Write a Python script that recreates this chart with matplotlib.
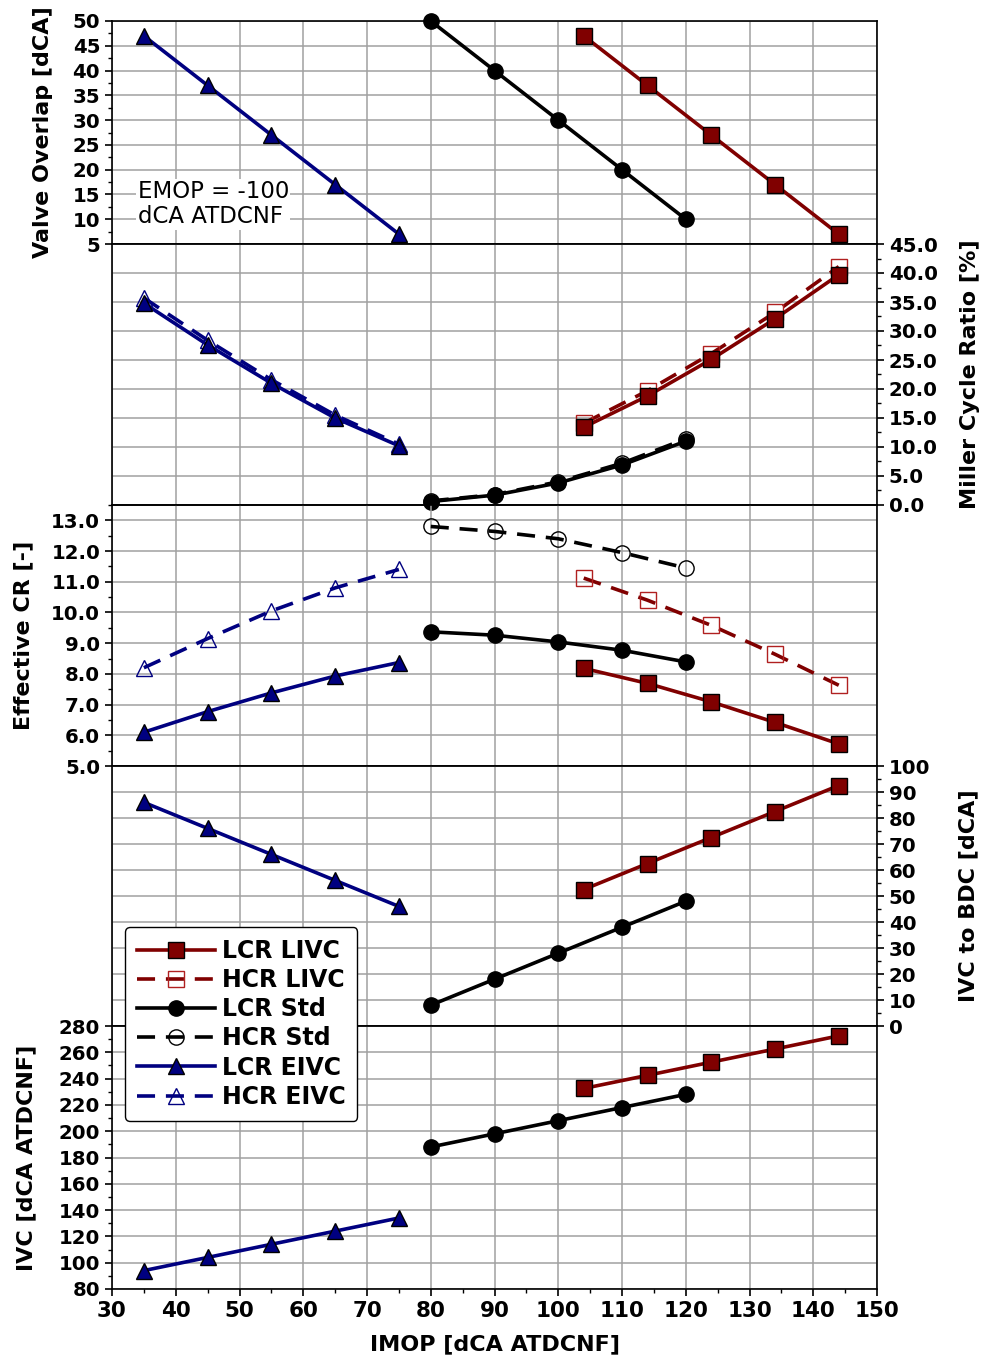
import matplotlib.pyplot as plt
from matplotlib.ticker import MultipleLocator, FormatStrFormatter
from matplotlib.lines import Line2D

# IMOP positions [dCA ATDCNF]
imop_livc = [104, 114, 124, 134, 144]
imop_std = [80, 90, 100, 110, 120]
imop_eivc = [35, 45, 55, 65, 75]

# valve overlap [dCA]
overlap_livc = [47, 37, 27, 17, 7]
overlap_std = [50, 40, 30, 20, 10]
overlap_eivc = [47, 37, 27, 17, 7]

# miller cycle ratio [%]
miller_lcr_livc = [13.4, 18.8, 25.1, 32.1, 39.7]
miller_hcr_livc = [14.1, 19.7, 26.1, 33.2, 41.1]
miller_lcr_std = [0.6, 1.7, 3.8, 6.9, 11.0]
miller_hcr_std = [0.7, 1.8, 4.0, 7.2, 11.4]
miller_lcr_eivc = [34.8, 27.6, 21.0, 15.0, 10.2]
miller_hcr_eivc = [35.7, 28.4, 21.6, 15.5, 10.5]

# effective compression ratio [-]
ecr_lcr_livc = [8.18, 7.69, 7.09, 6.42, 5.72]
ecr_hcr_livc = [11.12, 10.4, 9.58, 8.64, 7.63]
ecr_lcr_std = [9.37, 9.26, 9.04, 8.77, 8.39]
ecr_hcr_std = [12.8, 12.64, 12.4, 11.95, 11.45]
ecr_lcr_eivc = [6.1, 6.77, 7.38, 7.93, 8.37]
ecr_hcr_eivc = [8.2, 9.15, 10.05, 10.8, 11.4]

# IVC to BDC [dCA]
bdc_livc = [52.5, 62.5, 72.5, 82.5, 92.5]
bdc_std = [8, 18, 28, 38, 48]
bdc_eivc = [86, 76, 66, 56, 46]

# IVC [dCA ATDCNF]
ivc_livc = [232.5, 242.5, 252.5, 262.5, 272.5]
ivc_std = [188, 198, 208, 218, 228]
ivc_eivc = [94, 104, 114, 124, 134]

red = "#800000"
navy = "#000080"

plt.rcParams["font.family"] = "DejaVu Sans"
plt.rcParams["font.weight"] = "bold"
plt.rcParams["axes.labelweight"] = "bold"

fig = plt.figure(figsize=(9.84, 13.63), dpi=100)
fig.patch.set_facecolor("white")

L, R = 112 / 984, 877 / 984
H = 1363
edges = [21, 244, 505, 766, 1026, 1289]

axes = []
for i in range(5):
    top, bot = edges[i], edges[i + 1]
    ax = fig.add_axes([L, 1 - bot / H, R - L, (bot - top) / H])
    ax.patch.set_visible(False)
    ax.set_xlim(30, 150)
    ax.xaxis.set_major_locator(MultipleLocator(10))
    ax.xaxis.set_minor_locator(MultipleLocator(5))
    ax.grid(True, which="major", color="#a0a0a0", lw=1.1)
    ax.set_axisbelow(True)
    ax.tick_params(labelsize=14.2, width=1.2, length=5, direction="out")
    ax.tick_params(which="minor", length=3, width=1)
    for s in ax.spines.values():
        s.set_linewidth(1.2)
    if i < 4:
        ax.tick_params(axis="x", which="both", bottom=False, labelbottom=False)
    axes.append(ax)

lcr = dict(lw=2.6, ms=11, mec="black", mew=1, clip_on=False, zorder=4)
hcr = dict(lw=2.6, ms=11, mfc="none", mew=1, dashes=(5, 3), clip_on=False, zorder=3)

# panel 1: valve overlap
ax = axes[0]
ax.plot(imop_livc, overlap_livc, color=red, marker="s", **lcr)
ax.plot(imop_std, overlap_std, color="black", marker="o", **lcr)
ax.plot(imop_eivc, overlap_eivc, color=navy, marker="^", **lcr)
ax.set_ylim(5, 50)
ax.yaxis.set_major_locator(MultipleLocator(5))
ax.yaxis.set_minor_locator(MultipleLocator(2.5))
ax.set_ylabel("Valve Overlap [dCA]", fontsize=16, labelpad=14)
ax.text(34, 13, "EMOP = -100\ndCA ATDCNF", fontsize=16.5, fontweight="normal",
        va="center", ha="left", linespacing=1.1,
        bbox=dict(facecolor="white", edgecolor="none", pad=1))

# panel 2: miller cycle ratio
ax = axes[1]
ax.plot(imop_livc, miller_hcr_livc, color=red, marker="s", mec="#b02020", **hcr)
ax.plot(imop_std, miller_hcr_std, color="black", marker="o", mec="black", **hcr)
ax.plot(imop_eivc, miller_hcr_eivc, color=navy, marker="^", mec=navy, **hcr)
ax.plot(imop_livc, miller_lcr_livc, color=red, marker="s", **lcr)
ax.plot(imop_std, miller_lcr_std, color="black", marker="o", **lcr)
ax.plot(imop_eivc, miller_lcr_eivc, color=navy, marker="^", **lcr)
ax.set_ylim(0, 45)
ax.yaxis.tick_right()
ax.yaxis.set_label_position("right")
ax.yaxis.set_major_locator(MultipleLocator(5))
ax.yaxis.set_minor_locator(MultipleLocator(2.5))
ax.yaxis.set_major_formatter(FormatStrFormatter("%.1f"))
ax.set_ylabel("Miller Cycle Ratio [%]", fontsize=16, labelpad=16)

# panel 3: effective CR
ax = axes[2]
ax.plot(imop_livc, ecr_lcr_livc, color=red, marker="s", **lcr)
ax.plot(imop_livc, ecr_hcr_livc, color=red, marker="s", mec="#b02020", **hcr)
ax.plot(imop_std, ecr_lcr_std, color="black", marker="o", **lcr)
ax.plot(imop_std, ecr_hcr_std, color="black", marker="o", mec="black", **hcr)
ax.plot(imop_eivc, ecr_lcr_eivc, color=navy, marker="^", **lcr)
ax.plot(imop_eivc, ecr_hcr_eivc, color=navy, marker="^", mec=navy, **hcr)
ax.set_ylim(5, 13.5)
ax.yaxis.set_major_locator(MultipleLocator(1))
ax.yaxis.set_minor_locator(MultipleLocator(0.5))
ax.yaxis.set_major_formatter(FormatStrFormatter("%.1f"))
ax.set_ylabel("Effective CR [-]", fontsize=16, labelpad=13)

# panel 4: IVC to BDC
ax = axes[3]
ax.plot(imop_livc, bdc_livc, color=red, marker="s", **lcr)
ax.plot(imop_std, bdc_std, color="black", marker="o", **lcr)
ax.plot(imop_eivc, bdc_eivc, color=navy, marker="^", **lcr)
ax.set_ylim(0, 100)
ax.yaxis.tick_right()
ax.yaxis.set_label_position("right")
ax.yaxis.set_major_locator(MultipleLocator(10))
ax.yaxis.set_minor_locator(MultipleLocator(5))
ax.set_ylabel("IVC to BDC [dCA]", fontsize=16, labelpad=20)

# panel 5: IVC
ax = axes[4]
ax.plot(imop_livc, ivc_livc, color=red, marker="s", **lcr)
ax.plot(imop_std, ivc_std, color="black", marker="o", **lcr)
ax.plot(imop_eivc, ivc_eivc, color=navy, marker="^", **lcr)
ax.set_ylim(80, 280)
ax.yaxis.set_major_locator(MultipleLocator(20))
ax.yaxis.set_minor_locator(MultipleLocator(10))
ax.set_ylabel("IVC [dCA ATDCNF]", fontsize=16, labelpad=16)
ax.set_xlabel("IMOP [dCA ATDCNF]", fontsize=16, labelpad=10)
ax.tick_params(axis="x", labelsize=15.5)

handles = [
    Line2D([], [], color=red, lw=2.6, marker="s", ms=11, mec="black", mew=1),
    Line2D([], [], color=red, lw=2.6, marker="s", ms=11, mfc="none", mec="#b02020", mew=1, dashes=(5, 3)),
    Line2D([], [], color="black", lw=2.6, marker="o", ms=11, mec="black", mew=1),
    Line2D([], [], color="black", lw=2.6, marker="o", ms=11, mfc="none", mec="black", mew=1, dashes=(5, 3)),
    Line2D([], [], color=navy, lw=2.6, marker="^", ms=11, mec="black", mew=1),
    Line2D([], [], color=navy, lw=2.6, marker="^", ms=11, mfc="none", mec=navy, mew=1, dashes=(5, 3)),
]
labels = ["LCR LIVC", "HCR LIVC", "LCR Std", "HCR Std", "LCR EIVC", "HCR EIVC"]
leg = fig.legend(handles, labels, loc="upper left", bbox_to_anchor=(125 / 984, 1 - 927 / H),
                 borderaxespad=0, fontsize=17, handlelength=3.3, handletextpad=0.3,
                 labelspacing=0.22, borderpad=0.5, framealpha=1, edgecolor="black",
                 fancybox=True)
leg.get_frame().set_linewidth(1)

fig.savefig("out.png", dpi=100)
